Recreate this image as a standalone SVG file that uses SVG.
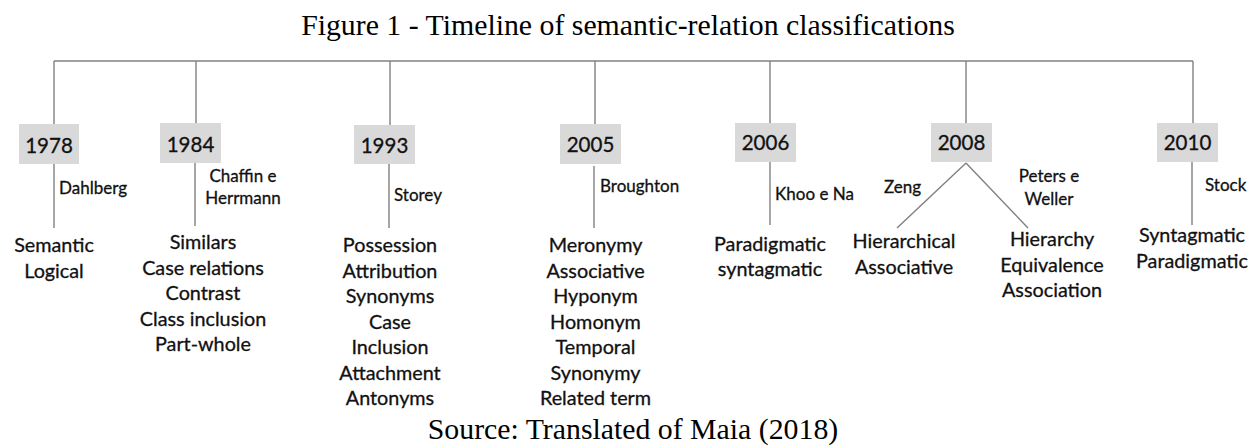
<svg xmlns="http://www.w3.org/2000/svg" width="1260" height="446" viewBox="0 0 1260 446">
  <style>
    .bg { fill: #ffffff; }
    .title { font-family: "Liberation Serif", "Times New Roman", serif; font-size: 29.8px; fill: #000000; text-anchor: middle; }
    .line { stroke: #808080; stroke-width: 1.4; fill: none; }
    .box { fill: #d9d9d9; }
    .sans { font-family: Lato, "Open Sans", sans-serif; fill: #111111; stroke: #111111; stroke-width: 0.3; }
    .year { font-size: 20.5px; text-anchor: middle; }
    .author { font-size: 17px; }
    .author.mid { text-anchor: middle; }
    .item { font-size: 19.8px; text-anchor: middle; }
  </style>

  <rect class="bg" x="0" y="0" width="1260" height="446"/>

  <text class="title" x="628" y="35">Figure 1 - Timeline of semantic-relation classifications</text>

  <!-- spine and branches -->
  <g id="connectors">
    <line class="line" x1="54" y1="61" x2="1193" y2="61"/>
    <line class="line" x1="54" y1="61" x2="54" y2="124"/>
    <line class="line" x1="196" y1="61" x2="196" y2="123"/>
    <line class="line" x1="390" y1="61" x2="390" y2="125"/>
    <line class="line" x1="595" y1="61" x2="595" y2="124"/>
    <line class="line" x1="770" y1="61" x2="770" y2="123"/>
    <line class="line" x1="966" y1="61" x2="966" y2="123"/>
    <line class="line" x1="1193" y1="61" x2="1193" y2="123"/>

    <line class="line" x1="54" y1="164" x2="54" y2="228"/>
    <line class="line" x1="195" y1="163" x2="195" y2="226"/>
    <line class="line" x1="389" y1="164" x2="389" y2="228"/>
    <line class="line" x1="594" y1="166" x2="594" y2="228"/>
    <line class="line" x1="770" y1="162" x2="770" y2="225"/>
    <line class="line" x1="966" y1="163" x2="897" y2="228"/>
    <line class="line" x1="966" y1="163" x2="1028" y2="228"/>
    <line class="line" x1="1192" y1="162" x2="1192" y2="225"/>
  </g>

  <g id="y1978" class="sans">
    <rect class="box" x="19" y="124" width="60" height="40" stroke="none"/>
    <text class="year" x="49" y="153">1978</text>
    <text class="author" x="59" y="194">Dahlberg</text>
    <text class="item" x="54" y="252">Semantic</text>
    <text class="item" x="54" y="278">Logical</text>
  </g>

  <g id="y1984" class="sans">
    <rect class="box" x="160" y="123" width="61" height="40" stroke="none"/>
    <text class="year" x="190.5" y="152">1984</text>
    <text class="author mid" x="243" y="182">Chaffin e</text>
    <text class="author mid" x="243" y="204">Herrmann</text>
    <text class="item" x="203" y="249">Similars</text>
    <text class="item" x="203" y="274.5">Case relations</text>
    <text class="item" x="203" y="300">Contrast</text>
    <text class="item" x="203" y="325.5">Class inclusion</text>
    <text class="item" x="203" y="351">Part-whole</text>
  </g>

  <g id="y1993" class="sans">
    <rect class="box" x="354" y="125" width="61" height="39" stroke="none"/>
    <text class="year" x="384.5" y="153">1993</text>
    <text class="author" x="394" y="201">Storey</text>
    <text class="item" x="390" y="252">Possession</text>
    <text class="item" x="390" y="277.5">Attribution</text>
    <text class="item" x="390" y="303">Synonyms</text>
    <text class="item" x="390" y="328.5">Case</text>
    <text class="item" x="390" y="354">Inclusion</text>
    <text class="item" x="390" y="379.5">Attachment</text>
    <text class="item" x="390" y="405">Antonyms</text>
  </g>

  <g id="y2005" class="sans">
    <rect class="box" x="560" y="124" width="61" height="40" stroke="none"/>
    <text class="year" x="590.5" y="152">2005</text>
    <text class="author" x="600" y="192">Broughton</text>
    <text class="item" x="595.5" y="252">Meronymy</text>
    <text class="item" x="595.5" y="277.5">Associative</text>
    <text class="item" x="595.5" y="303">Hyponym</text>
    <text class="item" x="595.5" y="328.5">Homonym</text>
    <text class="item" x="595.5" y="354">Temporal</text>
    <text class="item" x="595.5" y="379.5">Synonymy</text>
    <text class="item" x="595.5" y="405">Related term</text>
  </g>

  <g id="y2006" class="sans">
    <rect class="box" x="735" y="123" width="61" height="39" stroke="none"/>
    <text class="year" x="765.5" y="150">2006</text>
    <text class="author" x="775" y="200">Khoo e Na</text>
    <text class="item" x="770" y="251">Paradigmatic</text>
    <text class="item" x="770" y="276">syntagmatic</text>
  </g>

  <g id="y2008" class="sans">
    <rect class="box" x="931" y="123" width="61" height="39" stroke="none"/>
    <text class="year" x="961.5" y="150">2008</text>
    <text class="author" x="884" y="193">Zeng</text>
    <text class="author mid" x="1049" y="182">Peters e</text>
    <text class="author mid" x="1049" y="205">Weller</text>
    <text class="item" x="904" y="248">Hierarchical</text>
    <text class="item" x="904" y="273.5">Associative</text>
    <text class="item" x="1052" y="246">Hierarchy</text>
    <text class="item" x="1052" y="271.5">Equivalence</text>
    <text class="item" x="1052" y="297">Association</text>
  </g>

  <g id="y2010" class="sans">
    <rect class="box" x="1157" y="123" width="61" height="39" stroke="none"/>
    <text class="year" x="1187.5" y="150">2010</text>
    <text class="author" x="1205" y="191">Stock</text>
    <text class="item" x="1192" y="242">Syntagmatic</text>
    <text class="item" x="1192" y="267.5">Paradigmatic</text>
  </g>

  <text class="title" x="633" y="439">Source: Translated of Maia (2018)</text>
</svg>
